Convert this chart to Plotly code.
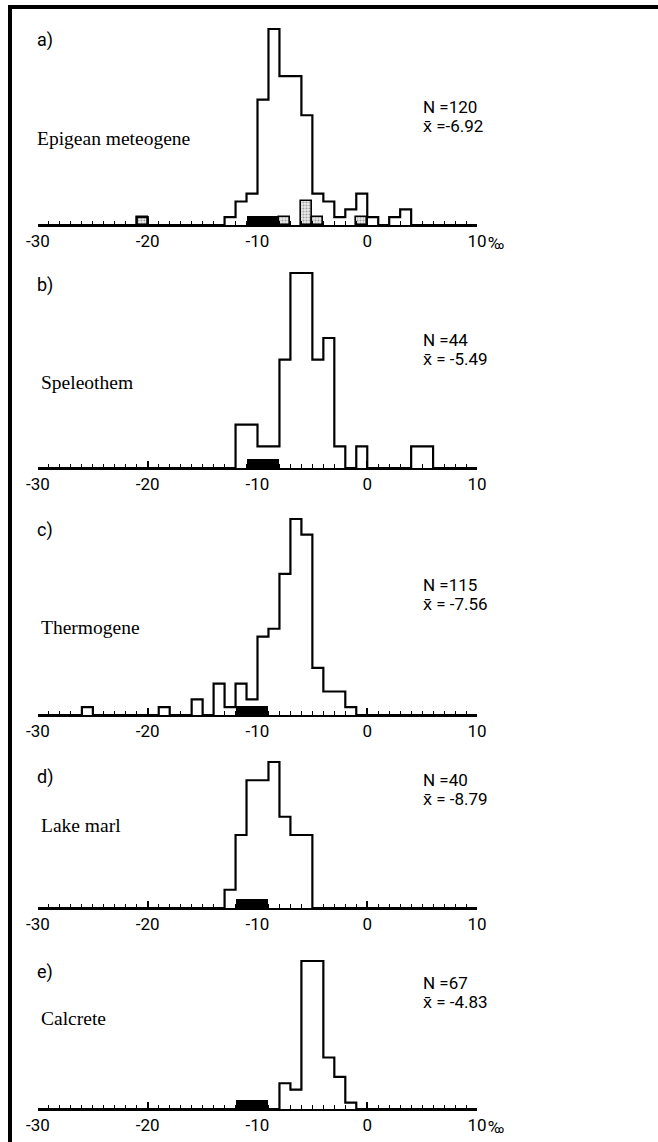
import plotly.graph_objects as go

W, H = 658, 1142

# ---------------- data (1 per-mil bins: left edge, count) ----------------
panel_letters = ["a)", "b)", "c)", "d)", "e)"]
panel_names = ["Epigean meteogene", "Speleothem", "Thermogene", "Lake marl", "Calcrete"]
panel_N = ["N =120", "N =44", "N =115", "N =40", "N =67"]
panel_mean = ["x\u0304 =-6.92", "x\u0304 = -5.49", "x\u0304 = -7.56", "x\u0304 = -8.79", "x\u0304 = -4.83"]

a_bins = [-21, -13, -12, -11, -10, -9, -8, -7, -6, -5, -4, -3, -2, -1, 0, 2, 3]
a_counts = [1, 1, 3, 4, 16, 25, 19, 19, 14, 4, 3, 1, 2, 4, 1, 1, 2]
a_stip_bins = [-21, -8, -6, -5, -1]
a_stip_counts = [1, 1, 3, 1, 1]

b_bins = [-12, -11, -10, -9, -8, -7, -6, -5, -4, -3, -1, 4, 5]
b_counts = [2, 2, 1, 1, 5, 9, 9, 5, 6, 1, 1, 1, 1]

c_bins = [-26, -19, -16, -14, -13, -12, -11, -10, -9, -8, -7, -6, -5, -4, -3, -2]
c_counts = [1, 1, 2, 4, 1, 4, 2, 10, 11, 18, 25, 23, 6, 3, 3, 1]

d_bins = [-13, -12, -11, -10, -9, -8, -7, -6]
d_counts = [1, 4, 7, 7, 8, 5, 4, 4]

e_bins = [-8, -7, -6, -5, -4, -3, -2]
e_counts = [4, 3, 23, 23, 8, 5, 1]

# reference range (black bar) per panel
ref_ranges = [(-11, -8), (-11, -8), (-12, -9), (-12, -9), (-12, -9)]

tick_vals = [-30, -20, -10, 0, 10]
tick_text = ["-30", "-20", "-10", "0", "10"]
permil_panels = [0, 4]

all_bins = [a_bins, b_bins, c_bins, d_bins, e_bins]
all_counts = [a_counts, b_counts, c_counts, d_counts, e_counts]

# ---------------- layout (pixels) ----------------
X_LEFT, X_RIGHT = 38, 477
baselines = [225, 468, 715, 908, 1109]
peak_px = [196, 195, 196, 146, 148]
letter_y = [40, 285, 530, 777, 972]
name_y = [138, 382, 627, 825, 1018]
stat_y = [107, 340, 585, 780, 983]
dom_h = 210
ref_h_px = 9

SANS = "Roboto, Noto Sans, sans-serif"
SERIF = "Liberation Serif, Times New Roman, serif"

def px(x):
    return x / W

def py(y):
    return 1 - y / H

fig = go.Figure()
annotations = []

for i in range(5):
    k = "" if i == 0 else str(i + 1)
    xa, ya = "x" + k, "y" + k
    counts = dict(zip(all_bins[i], all_counts[i]))
    edges = list(range(-30, 11))
    steps = [counts.get(e, 0) for e in edges[:-1]] + [0]
    ppc = peak_px[i] / max(all_counts[i])
    ymax = dom_h / ppc

    # black reference bar
    r0, r1 = ref_ranges[i]
    fig.add_trace(go.Bar(x=[(r0 + r1) / 2], y=[ref_h_px / ppc], width=[r1 - r0],
                         marker=dict(color="black", line=dict(width=0)),
                         xaxis=xa, yaxis=ya, showlegend=False, hoverinfo="skip"))
    if i == 0:
        fig.add_trace(go.Bar(x=[b + 0.5 for b in a_stip_bins], y=a_stip_counts, width=1,
                             marker=dict(color="#e0e0e0",
                                         pattern=dict(shape=".", fgcolor="#555", bgcolor="#ececec",
                                                      size=3, solidity=0.4),
                                         line=dict(color="black", width=1.6)),
                             xaxis=xa, yaxis=ya, showlegend=False, hoverinfo="skip"))
    # step outline
    fig.add_trace(go.Scatter(x=edges, y=steps, mode="lines",
                             line=dict(color="black", width=2.2, shape="hv"),
                             xaxis=xa, yaxis=ya, showlegend=False, hoverinfo="skip"))

    y_top = baselines[i] - dom_h
    fig.update_layout(**{
        ("xaxis" + k): dict(domain=[px(X_LEFT), px(X_RIGHT)], range=[-30, 10], anchor=ya,
                            tickvals=tick_vals, ticktext=tick_text,
                            ticks="inside", ticklen=7, tickwidth=1.6, tickcolor="black",
                            minor=dict(ticks="inside", dtick=1, ticklen=4, tickwidth=1.3,
                                       tickcolor="black"),
                            showline=True, linewidth=2, linecolor="black",
                            showgrid=False, zeroline=False, automargin=False,
                            tickfont=dict(family=SANS, size=17, color="black"),
                            ticklabelstandoff=0, fixedrange=True),
        ("yaxis" + k): dict(domain=[py(baselines[i]), py(y_top)], range=[0, ymax],
                            anchor=xa, visible=False, fixedrange=True),
    })

    annotations.append(dict(text=panel_letters[i], x=px(35), y=py(letter_y[i]),
                            font=dict(family=SANS, size=18, color="black")))
    annotations.append(dict(text=panel_names[i], x=px(35 if i == 0 else 39), y=py(name_y[i]),
                            font=dict(family=SERIF, size=19.5, color="black")))
    annotations.append(dict(text=panel_N[i], x=px(421), y=py(stat_y[i]),
                            font=dict(family=SANS, size=17, color="black")))
    annotations.append(dict(text=panel_mean[i], x=px(421), y=py(stat_y[i] + 19),
                            font=dict(family=SANS, size=17, color="black")))
    if i in permil_panels:
        annotations.append(dict(text="\u2030", x=px(486), y=py(baselines[i] + 18),
                                font=dict(family=SANS, size=17, color="black")))

for a in annotations:
    a.update(xref="paper", yref="paper", xanchor="left", yanchor="middle", showarrow=False)

fig.update_layout(
    width=W, height=H, margin=dict(l=0, r=0, t=0, b=0),
    paper_bgcolor="white", plot_bgcolor="rgba(0,0,0,0)",
    barmode="overlay", bargap=0, showlegend=False,
    annotations=annotations,
    shapes=[
        dict(type="rect", xref="paper", yref="paper", x0=px(8), x1=1, y0=py(9), y1=py(5),
             fillcolor="black", line=dict(width=0), layer="above"),
        dict(type="rect", xref="paper", yref="paper", x0=px(8), x1=px(12), y0=0, y1=py(5),
             fillcolor="black", line=dict(width=0), layer="above"),
    ],
)

fig.write_html("out.html", config={"displayModeBar": False},
               post_script="document.body.style.margin='0px';document.body.style.overflow='hidden';")
